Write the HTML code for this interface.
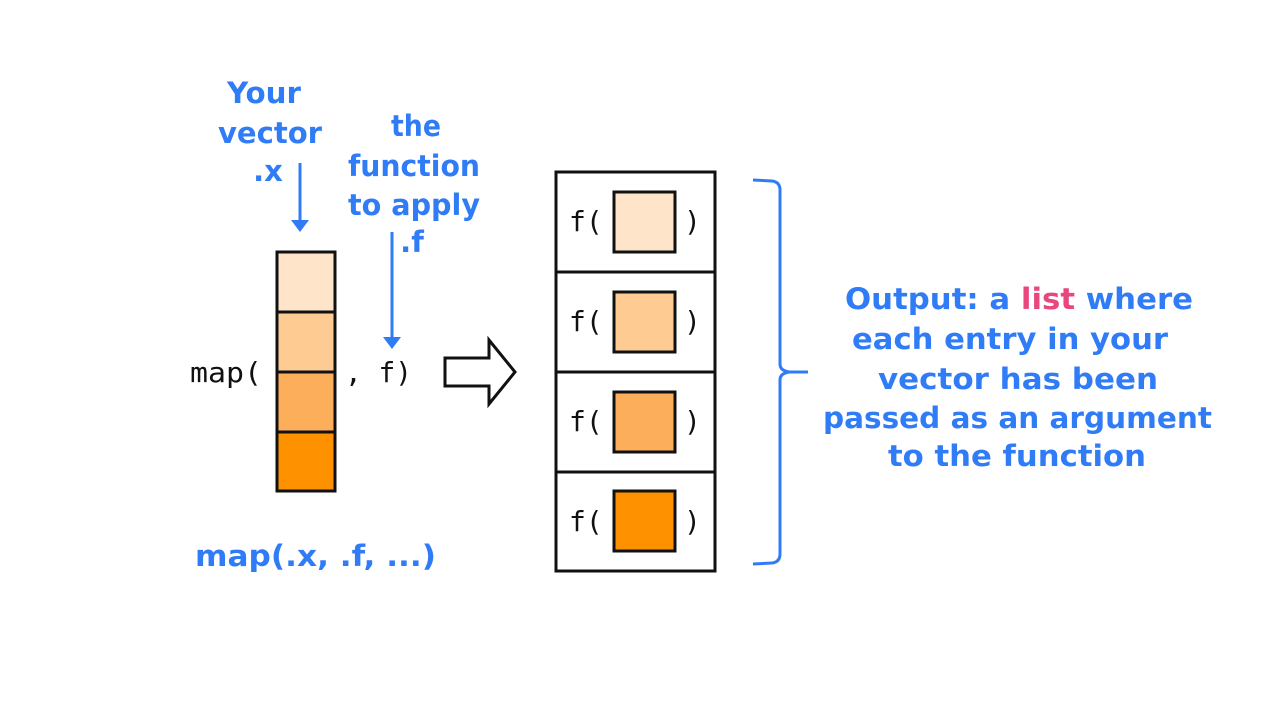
<!DOCTYPE html>
<html><head><meta charset="utf-8"><style>
html,body{margin:0;padding:0;background:#fff;}
svg{display:block}
.h{font-family:"DejaVu Sans","Liberation Sans",sans-serif;fill:#2f7cf6;font-size:29px;font-weight:bold;}
.m{font-family:"DejaVu Sans Mono","Liberation Mono",monospace;fill:#111;font-size:28px;}
</style></head><body>
<svg width="1265" height="712" viewBox="0 0 1265 712">
<rect width="1265" height="712" fill="#fff"/>
<g>
<text class="h" x="264" y="103" text-anchor="middle" textLength="74" lengthAdjust="spacingAndGlyphs">Your</text>
<text class="h" x="270" y="143" text-anchor="middle" textLength="104" lengthAdjust="spacingAndGlyphs">vector</text>
<text class="h" x="268" y="181" text-anchor="middle">.x</text>
</g>
<g>
<line x1="300" y1="163" x2="300" y2="222" stroke="#2f7cf6" stroke-width="3"/>
<polygon points="291,220 309,220 300,232" fill="#2f7cf6"/>
</g>
<g>
<text class="h" x="416" y="136" text-anchor="middle" textLength="50" lengthAdjust="spacingAndGlyphs">the</text>
<text class="h" x="414" y="176" text-anchor="middle" textLength="132" lengthAdjust="spacingAndGlyphs">function</text>
<text class="h" x="414" y="215" text-anchor="middle" textLength="132" lengthAdjust="spacingAndGlyphs">to apply</text>
<text class="h" x="412" y="252" text-anchor="middle">.f</text>
</g>
<g>
<line x1="392" y1="232" x2="392" y2="340" stroke="#2f7cf6" stroke-width="3"/>
<polygon points="383,337 401,337 392,349" fill="#2f7cf6"/>
</g>
<text class="m" x="190" y="382" textLength="72" lengthAdjust="spacingAndGlyphs">map(</text>
<g>
<rect x="277" y="252" width="58" height="60" fill="#fee5c9" stroke="#111" stroke-width="3"/>
<rect x="277" y="312" width="58" height="60" fill="#fecb92" stroke="#111" stroke-width="3"/>
<rect x="277" y="372" width="58" height="60" fill="#fdae5a" stroke="#111" stroke-width="3"/>
<rect x="277" y="432" width="58" height="59" fill="#fd9100" stroke="#111" stroke-width="3"/>
</g>
<text class="m" x="345" y="382" textLength="67" lengthAdjust="spacingAndGlyphs">, f)</text>
<polygon points="445,358 489,358 489,340 515,372 489,404 489,386 445,386" fill="#fff" stroke="#111" stroke-width="3"/>
<g>
<rect x="556" y="172" width="159" height="100" fill="#fff" stroke="#111" stroke-width="3"/>
<rect x="556" y="272" width="159" height="100" fill="#fff" stroke="#111" stroke-width="3"/>
<rect x="556" y="372" width="159" height="100" fill="#fff" stroke="#111" stroke-width="3"/>
<rect x="556" y="472" width="159" height="99" fill="#fff" stroke="#111" stroke-width="3"/>
<rect x="614" y="192" width="61" height="60" fill="#fee5c9" stroke="#111" stroke-width="3"/>
<rect x="614" y="292" width="61" height="60" fill="#fecb92" stroke="#111" stroke-width="3"/>
<rect x="614" y="392" width="61" height="60" fill="#fdae5a" stroke="#111" stroke-width="3"/>
<rect x="614" y="491" width="61" height="60" fill="#fd9100" stroke="#111" stroke-width="3"/>
<text class="m" x="569" y="231">f(</text><text class="m" x="684" y="231">)</text>
<text class="m" x="569" y="331">f(</text><text class="m" x="684" y="331">)</text>
<text class="m" x="569" y="431">f(</text><text class="m" x="684" y="431">)</text>
<text class="m" x="569" y="531">f(</text><text class="m" x="684" y="531">)</text>
</g>
<path d="M753,180 L772,181 Q780,182 780,190 L780,364 Q780,371 790,372 L808,372 M790,372 Q780,373 780,380 L780,554 Q780,562 772,563 L753,564" fill="none" stroke="#2f7cf6" stroke-width="3"/>
<g>
<text class="h" x="845" y="309" textLength="348" lengthAdjust="spacingAndGlyphs">Output: a <tspan fill="#e8467c">list</tspan> where</text>
<text class="h" x="852" y="349" textLength="316" lengthAdjust="spacingAndGlyphs">each entry in your</text>
<text class="h" x="878" y="389" textLength="280" lengthAdjust="spacingAndGlyphs">vector  has been</text>
<text class="h" x="823" y="428" textLength="389" lengthAdjust="spacingAndGlyphs">passed as an argument</text>
<text class="h" x="888" y="466" textLength="258" lengthAdjust="spacingAndGlyphs">to the function</text>
</g>
<text class="h" x="195" y="566" textLength="241" lengthAdjust="spacingAndGlyphs">map(.x,  .f,  ...)</text>
</svg>
</body></html>
